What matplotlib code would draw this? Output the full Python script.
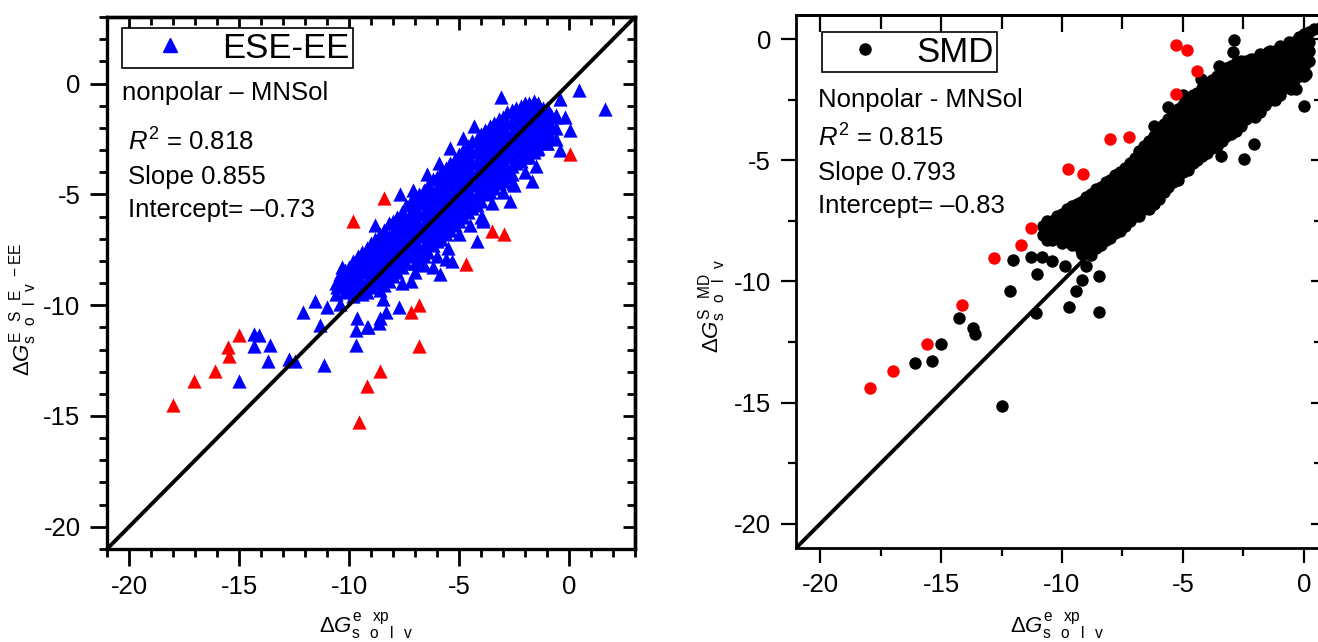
import matplotlib
matplotlib.use('Agg')
import matplotlib.pyplot as plt
from matplotlib.ticker import MultipleLocator
from matplotlib.lines import Line2D

plt.rcParams['font.family'] = ['Liberation Sans', 'DejaVu Sans']
plt.rcParams['mathtext.fontset'] = 'custom'
plt.rcParams['mathtext.rm'] = 'Liberation Sans'
plt.rcParams['mathtext.it'] = 'Liberation Sans:italic'
plt.rcParams['axes.unicode_minus'] = False

# ---- data ----
diag = [-21, 3]

# ESE-EE, blue triangles: scattered points
ese_blue = [
    (-7.6, -9.0), (-7.0, -8.5), (-6.6, -8.2), (-6.0, -7.8), (-5.5, -7.4), (-5.0, -6.8),
    (-4.5, -6.4), (-4.0, -6.0), (-3.5, -5.4), (-3.0, -4.9), (-2.5, -4.6), (-2.0, -4.0), (-1.5, -3.7),
    (-14.3, -11.3), (-14.1, -11.35), (-14.3, -11.85), (-13.6, -11.8), (-13.7, -12.5),
    (-12.75, -12.45), (-12.45, -12.5), (-15.0, -13.4), (-11.15, -12.7), (-9.7, -11.8),
    (-11.3, -10.9), (-9.7, -11.1), (-9.15, -11.0), (-8.65, -10.8), (-12.1, -10.3),
    (-11.55, -9.8), (-11.0, -10.1), (-10.4, -9.95), (-10.3, -8.3), (-9.7, -8.0),
    (-10.1, -8.8), (-10.55, -9.2), (-9.65, -10.6), (-9.2, -11.0), (-8.45, -9.7),
    (-8.3, -10.3), (-8.6, -10.6), (-7.75, -10.1), (-7.2, -8.9), (-6.2, -8.3),
    (-5.85, -8.6), (-5.3, -8.0), (-4.2, -7.1), (-3.9, -6.2),
    (-3.1, -0.63), (-4.8, -2.45), (-5.4, -2.9), (-6.45, -4.1), (-7.7, -5.0),
    (0.45, -0.3), (1.65, -1.15), (-0.4, -0.7), (-0.2, -1.5), (0.05, -2.1),
    (-0.6, -1.4), (-1.0, -1.1), (-1.45, -2.95), (-1.7, -4.4), (-2.55, -4.5),
    (-3.9, -6.1), (-2.2, -1.36), (-1.6, -1.1), (-0.4, -3.0), (-1.0, -2.7),
    (-5.9, -3.6), (-7.1, -4.8), (-4.3, -1.9), (-8.8, -6.4), (-2.7, -5.3), (-5.6, -7.9),
]
# ESE-EE dense cloud, read column by column: (x, [y values])
ese_cloud = [
    (-10.6, [-9.0, -9.5]), (-10.4, [-8.6, -9.1]), (-10.2, [-8.4, -8.9, -9.4]),
    (-10.0, [-8.3, -8.8, -9.3]), (-9.8, [-8.0, -8.6, -9.1, -9.6]),
    (-9.6, [-7.8, -8.3, -8.8, -9.3]), (-9.4, [-7.6, -8.1, -8.5, -9.0, -9.5]),
    (-9.2, [-7.4, -7.9, -8.4, -8.9, -9.4]), (-9.0, [-7.2, -7.7, -8.2, -8.7, -9.2]),
    (-8.8, [-7.0, -7.5, -8.0, -8.5, -9.0]), (-8.6, [-6.8, -7.3, -7.8, -8.3, -8.8, -9.3]),
    (-8.4, [-6.6, -7.1, -7.6, -8.1, -8.6, -9.1]), (-8.2, [-6.3, -6.9, -7.4, -7.9, -8.4, -8.9]),
    (-8.0, [-6.2, -6.7, -7.2, -7.7, -8.2, -8.7]), (-7.8, [-6.0, -6.5, -7.0, -7.5, -8.0, -8.5]),
    (-7.6, [-5.8, -6.3, -6.8, -7.3, -7.8, -8.3]), (-7.4, [-5.5, -6.1, -6.6, -7.1, -7.6, -8.1]),
    (-7.2, [-5.3, -5.8, -6.3, -6.8, -7.3, -7.8]), (-7.0, [-5.1, -5.6, -6.1, -6.6, -7.1, -7.6, -8.1]),
    (-6.8, [-5.0, -5.4, -5.9, -6.4, -6.9, -7.4, -7.9]), (-6.6, [-4.8, -5.3, -5.8, -6.3, -6.8, -7.3, -7.8]),
    (-6.4, [-4.6, -5.1, -5.6, -6.1, -6.6, -7.1, -7.6]), (-6.2, [-4.3, -4.9, -5.4, -5.9, -6.4, -6.9, -7.3]),
    (-6.0, [-4.2, -4.7, -5.2, -5.7, -6.2, -6.7, -7.1]), (-5.8, [-4.0, -4.5, -5.0, -5.5, -6.0, -6.5, -7.0]),
    (-5.6, [-3.8, -4.3, -4.8, -5.3, -5.8, -6.3, -6.8]), (-5.4, [-3.6, -4.1, -4.6, -5.1, -5.6, -6.1, -6.6]),
    (-5.2, [-3.4, -3.9, -4.4, -4.9, -5.4, -5.9, -6.4]), (-5.0, [-3.2, -3.7, -4.2, -4.7, -5.2, -5.7, -6.2]),
    (-4.8, [-3.0, -3.5, -4.0, -4.5, -5.0, -5.5, -6.0]), (-4.6, [-2.8, -3.3, -3.8, -4.3, -4.8, -5.3, -5.8]),
    (-4.4, [-2.6, -3.1, -3.6, -4.1, -4.6, -5.1, -5.6]), (-4.2, [-2.5, -3.0, -3.5, -4.0, -4.5, -5.0, -5.5]),
    (-4.0, [-2.3, -2.8, -3.3, -3.8, -4.3, -4.8, -5.3]), (-3.8, [-2.1, -2.6, -3.1, -3.6, -4.1, -4.6, -5.0]),
    (-3.6, [-1.9, -2.4, -2.9, -3.4, -3.9, -4.4, -4.9]), (-3.4, [-1.8, -2.3, -2.8, -3.3, -3.8, -4.3, -4.7]),
    (-3.2, [-1.6, -2.1, -2.6, -3.1, -3.6, -4.1, -4.5]), (-3.0, [-1.5, -2.0, -2.5, -3.0, -3.5, -4.0, -4.4]),
    (-2.8, [-1.3, -1.8, -2.3, -2.8, -3.3, -3.8, -4.2]), (-2.6, [-1.2, -1.7, -2.2, -2.7, -3.2, -3.7, -4.1]),
    (-2.4, [-1.1, -1.6, -2.1, -2.6, -3.1, -3.6]), (-2.2, [-1.0, -1.5, -2.0, -2.5, -3.0, -3.5]),
    (-2.0, [-0.9, -1.3, -1.8, -2.3, -2.8, -3.3]), (-1.8, [-0.9, -1.4, -1.9, -2.4, -2.9, -3.3]),
    (-1.6, [-0.8, -1.2, -1.7, -2.2, -2.7, -3.1]), (-1.4, [-0.9, -1.4, -1.9, -2.4, -2.9]),
    (-1.2, [-1.1, -1.6, -2.1, -2.6]), (-1.0, [-1.2, -1.7, -2.2, -2.7]),
    (-0.8, [-1.4, -1.9, -2.4]), (-0.6, [-1.5, -2.0, -2.5]),
]
ese_red = [
    (-18.0, -14.5), (-17.05, -13.4), (-16.1, -12.95), (-15.5, -11.9), (-15.45, -12.3),
    (-15.0, -11.36), (-9.8, -6.2), (-8.4, -5.15), (-3.5, -6.65), (-2.95, -6.8),
    (-4.7, -8.15), (0.05, -3.2), (-7.2, -10.3), (-6.8, -10.0), (-6.8, -11.85),
    (-8.6, -12.95), (-9.2, -13.65), (-9.55, -15.25),
]

# SMD, black dots: scattered points
smd_black = [
    (-6.9, -5.25), (-6.6, -4.4), (-6.2, -3.6), (-5.6, -2.8), (-5.0, -2.3), (-4.25, -1.65),
    (-3.5, -1.1), (-2.89, -0.04), (-2.93, -0.53), (-1.49, -0.53), (-0.95, -0.5), (0.41, 0.41),
    (0.08, -1.45), (0.0, -2.77), (-0.54, -2.07), (-2.07, -4.34), (-2.48, -4.96),
    (-3.43, -4.83), (-0.33, -2.07), (-0.66, -1.73),
    (-14.28, -11.5), (-12.15, -10.4), (-12.02, -9.13), (-11.03, -9.67), (-11.28, -8.97),
    (-10.83, -9.0), (-10.41, -9.17), (-9.88, -9.38), (-10.58, -7.77), (-10.04, -7.85),
    (-9.63, -8.26), (-9.17, -8.88), (-9.0, -9.38), (-9.17, -9.92), (-8.47, -9.79),
    (-9.42, -10.41), (-9.7, -11.07), (-8.47, -11.24), (-11.07, -11.28),
    (-15.0, -12.6), (-15.37, -13.3), (-16.07, -13.35), (-13.68, -11.9), (-13.6, -12.15),
    (-12.48, -15.12),
]
# SMD dense cloud, column by column: (x, [y values])
smd_cloud = [
    (-10.8, [-7.7, -8.1]), (-10.6, [-7.5, -7.9, -8.3]), (-10.4, [-7.5, -7.9, -8.3]),
    (-10.2, [-7.3, -7.7, -8.1]), (-10.0, [-7.2, -7.6, -8.0, -8.4]),
    (-9.8, [-7.0, -7.4, -7.8, -8.2]), (-9.6, [-6.9, -7.3, -7.7, -8.1, -8.5]),
    (-9.4, [-6.8, -7.2, -7.6, -8.0, -8.4]), (-9.2, [-6.7, -7.1, -7.5, -7.9, -8.3, -8.7]),
    (-9.0, [-6.5, -6.9, -7.3, -7.7, -8.1, -8.5]), (-8.8, [-6.4, -6.8, -7.2, -7.6, -8.0, -8.4, -8.9]),
    (-8.6, [-6.2, -6.6, -7.0, -7.4, -7.8, -8.2, -8.6]), (-8.4, [-6.1, -6.5, -6.9, -7.3, -7.7, -8.1, -8.5]),
    (-8.2, [-5.9, -6.3, -6.7, -7.1, -7.5, -7.9, -8.3]), (-8.0, [-5.8, -6.2, -6.6, -7.0, -7.4, -7.8, -8.2]),
    (-7.8, [-5.6, -6.0, -6.4, -6.8, -7.2, -7.6, -8.0]), (-7.6, [-5.5, -5.9, -6.3, -6.7, -7.1, -7.5, -7.9]),
    (-7.4, [-5.3, -5.7, -6.1, -6.5, -6.9, -7.3, -7.7]), (-7.2, [-5.1, -5.5, -5.9, -6.3, -6.7, -7.1, -7.5]),
    (-7.0, [-4.9, -5.3, -5.7, -6.1, -6.5, -6.9, -7.3]), (-6.8, [-4.6, -5.0, -5.4, -5.8, -6.2, -6.6, -7.0, -7.3]),
    (-6.6, [-4.6, -5.0, -5.4, -5.8, -6.2, -6.6, -7.0]), (-6.4, [-4.2, -4.6, -5.0, -5.4, -5.8, -6.2, -6.6, -7.0]),
    (-6.2, [-4.0, -4.4, -4.8, -5.2, -5.6, -6.0, -6.4, -6.8]), (-6.0, [-3.8, -4.2, -4.6, -5.0, -5.4, -5.8, -6.2, -6.6]),
    (-5.8, [-3.5, -3.9, -4.3, -4.7, -5.1, -5.5, -5.9, -6.3]), (-5.6, [-3.3, -3.7, -4.1, -4.5, -4.9, -5.3, -5.7, -6.1]),
    (-5.4, [-3.1, -3.5, -3.9, -4.3, -4.7, -5.1, -5.5, -5.9]), (-5.2, [-2.9, -3.3, -3.7, -4.1, -4.5, -4.9, -5.3, -5.8]),
    (-5.0, [-2.7, -3.1, -3.5, -3.9, -4.3, -4.7, -5.1, -5.5]), (-4.8, [-2.5, -2.9, -3.3, -3.7, -4.1, -4.5, -4.9, -5.4]),
    (-4.6, [-2.3, -2.7, -3.1, -3.5, -3.9, -4.3, -4.7, -5.1]), (-4.4, [-2.2, -2.6, -3.0, -3.4, -3.8, -4.2, -4.6, -5.0]),
    (-4.2, [-2.0, -2.4, -2.8, -3.2, -3.6, -4.0, -4.4, -4.8]), (-4.0, [-1.9, -2.3, -2.7, -3.1, -3.5, -3.9, -4.3, -4.7]),
    (-3.8, [-1.7, -2.1, -2.5, -2.9, -3.3, -3.7, -4.1, -4.5]), (-3.6, [-1.5, -1.9, -2.3, -2.7, -3.1, -3.5, -3.9, -4.4]),
    (-3.4, [-1.4, -1.8, -2.2, -2.6, -3.0, -3.4, -3.8, -4.2]), (-3.2, [-1.2, -1.6, -2.0, -2.4, -2.8, -3.2, -3.6, -4.0]),
    (-3.0, [-1.1, -1.5, -1.9, -2.3, -2.7, -3.1, -3.5, -3.9]), (-2.8, [-1.0, -1.4, -1.8, -2.2, -2.6, -3.0, -3.4, -3.8]),
    (-2.6, [-0.9, -1.3, -1.7, -2.1, -2.5, -2.9, -3.3, -3.6]), (-2.4, [-0.9, -1.3, -1.7, -2.1, -2.5, -2.9, -3.3]),
    (-2.2, [-0.8, -1.2, -1.6, -2.0, -2.4, -2.8, -3.1]), (-2.0, [-0.8, -1.2, -1.6, -2.0, -2.4, -2.8, -3.2]),
    (-1.8, [-0.6, -1.0, -1.4, -1.8, -2.2, -2.6, -3.0]), (-1.6, [-0.7, -1.1, -1.5, -1.9, -2.3, -2.7]),
    (-1.4, [-0.5, -0.9, -1.3, -1.7, -2.1, -2.5]), (-1.2, [-0.5, -0.9, -1.3, -1.7, -2.1, -2.5]),
    (-1.0, [-0.3, -0.7, -1.1, -1.5, -1.9, -2.3]), (-0.8, [-0.4, -0.8, -1.2, -1.6, -2.0]),
    (-0.6, [-0.1, -0.5, -0.9, -1.3, -1.7]), (-0.4, [-0.1, -0.5, -0.9, -1.3, -1.7]),
    (-0.2, [0.1, -0.3, -0.7, -1.1, -1.5]), (0.0, [0.2, -0.3, -0.7, -1.1, -1.5]),
    (0.2, [0.3, -0.1, -0.5, -0.9]),
]
smd_red = [
    (-17.93, -14.38), (-16.98, -13.68), (-15.58, -12.56), (-14.13, -10.95), (-12.81, -9.05),
    (-11.69, -8.51), (-11.28, -7.81), (-9.75, -5.37), (-9.13, -5.58), (-8.02, -4.13),
    (-7.23, -4.05), (-5.29, -0.25), (-4.83, -0.45), (-4.42, -1.32), (-5.29, -2.27),
]

major_ticks = [-20, -15, -10, -5, 0]

fig = plt.figure(figsize=(13.18, 6.42), dpi=100)
W, H = 1318, 642


def px(x, y):
    return x / W, 1 - y / H


def unpack(points, cloud):
    xs = [p[0] for p in points] + [c[0] for c in cloud for _ in c[1]]
    ys = [p[1] for p in points] + [y for c in cloud for y in c[1]]
    return xs, ys


def style_axes(ax, minor, spw, tw, out_len, in_len):
    ax.set_xticks(major_ticks)
    ax.set_yticks(major_ticks)
    ax.xaxis.set_minor_locator(MultipleLocator(minor))
    ax.yaxis.set_minor_locator(MultipleLocator(minor))
    ax.tick_params(which='major', direction='out', length=out_len[0], width=tw, labelsize=18.5, pad=7)
    ax.tick_params(which='minor', direction='out', length=out_len[1], width=tw)
    for sp in ax.spines.values():
        sp.set_linewidth(spw)
    top = ax.secondary_xaxis('top')
    top.set_xticks(major_ticks)
    top.xaxis.set_minor_locator(MultipleLocator(minor))
    top.tick_params(which='major', direction='in', length=in_len[0], width=tw, labeltop=False)
    top.tick_params(which='minor', direction='in', length=in_len[1], width=tw)
    top.spines['top'].set_linewidth(spw)
    right = ax.secondary_yaxis('right')
    right.set_yticks(major_ticks)
    right.yaxis.set_minor_locator(MultipleLocator(minor))
    right.tick_params(which='major', direction='in', length=in_len[0], width=tw, labelright=False)
    right.tick_params(which='minor', direction='in', length=in_len[1], width=tw)
    right.spines['right'].set_linewidth(spw)


sp3 = r'\;\;\;'
lab_solv = r'\mathrm{s' + sp3 + 'o' + sp3 + 'l' + sp3 + 'v}'
lab_exp = r'$\Delta G_{' + lab_solv + r'}^{\mathrm{e' + sp3 + r'xp}}$'

# ---------------- left panel ----------------
ax1 = fig.add_axes([107 / W, 1 - 549 / H, 528 / W, 532 / H])
bx, by = unpack(ese_blue, ese_cloud)
rx, ry = zip(*ese_red)
ax1.scatter(bx, by, marker='^', s=105, color='#0000FF', linewidths=0, zorder=2)
ax1.scatter(rx, ry, marker='^', s=105, color='#FF0000', linewidths=0, zorder=3)
ax1.plot(diag, diag, color='black', lw=2.8, zorder=4)
ax1.set_xlim(-21, 3)
ax1.set_ylim(-21, 3)
style_axes(ax1, 1, 2.4, 2, (12, 6), (9, 6))

ax1.set_ylabel(r'$\Delta G_{' + lab_solv + r'}^{\mathrm{E' + sp3 + 'S' + sp3 + 'E' + sp3 + r'-EE}}$',
               fontsize=16)
ax1.yaxis.set_label_coords(-0.128, 0.45)
ax1.set_xlabel(lab_exp, fontsize=16)
ax1.xaxis.set_label_coords(0.49, -0.116)

h1 = Line2D([], [], marker='^', ls='none', color='#0000FF', ms=10)
leg1 = ax1.legend([h1], ['ESE-EE'], loc='upper left', bbox_to_anchor=(0.0284, 0.979),
                  fontsize=25, frameon=True, fancybox=False, edgecolor='black',
                  framealpha=1, borderpad=0.1, handlelength=2.56, handletextpad=0.22,
                  borderaxespad=0)
leg1.get_frame().set_linewidth(1.2)

for txt, x, y in [('nonpolar \u2013 MNSol', 122, 100), (r'$R^2$ = 0.818', 128, 151),
                  ('Slope 0.855', 128, 184), ('Intercept= \u20130.73', 128, 217)]:
    fig.text(*px(x, y), txt, fontsize=18.5, va='baseline', ha='left')

# ---------------- right panel ----------------
ax2 = fig.add_axes([796 / W, 1 - 548 / H, 532 / W, 533 / H])
kx, ky = unpack(smd_black, smd_cloud)
qx, qy = zip(*smd_red)
ax2.plot(diag, diag, color='black', lw=2.8, zorder=1)
ax2.scatter(kx, ky, marker='o', s=80, color='black', linewidths=0, zorder=2)
ax2.scatter(qx, qy, marker='o', s=80, color='#FF0000', linewidths=0, zorder=3)
ax2.set_xlim(-21, 1)
ax2.set_ylim(-21, 1)
style_axes(ax2, 2.5, 2, 1.6, (11, 6), (12, 10))

ax2.set_ylabel(r'$\Delta G_{' + lab_solv + r'}^{\mathrm{S' + sp3 + r'MD}}$', fontsize=16)
ax2.yaxis.set_label_coords(-0.128, 0.454)
ax2.set_xlabel(lab_exp, fontsize=16)
ax2.xaxis.set_label_coords(0.49, -0.118)

h2 = Line2D([], [], marker='o', ls='none', color='black', ms=8)
leg2 = ax2.legend([h2], ['SMD'], loc='upper left', bbox_to_anchor=(0.0489, 0.968),
                  fontsize=25, frameon=True, fancybox=False, edgecolor='black',
                  framealpha=1, borderpad=0.1, handlelength=2.3, handletextpad=0.32,
                  borderaxespad=0)
leg2.get_frame().set_linewidth(1.2)

for txt, x, y in [('Nonpolar - MNSol', 818, 107), (r'$R^2$ = 0.815', 818, 147),
                  ('Slope 0.793', 818, 180), ('Intercept= \u20130.83', 818, 213)]:
    fig.text(*px(x, y), txt, fontsize=18.5, va='baseline', ha='left')

fig.savefig('out.png', dpi=100)
